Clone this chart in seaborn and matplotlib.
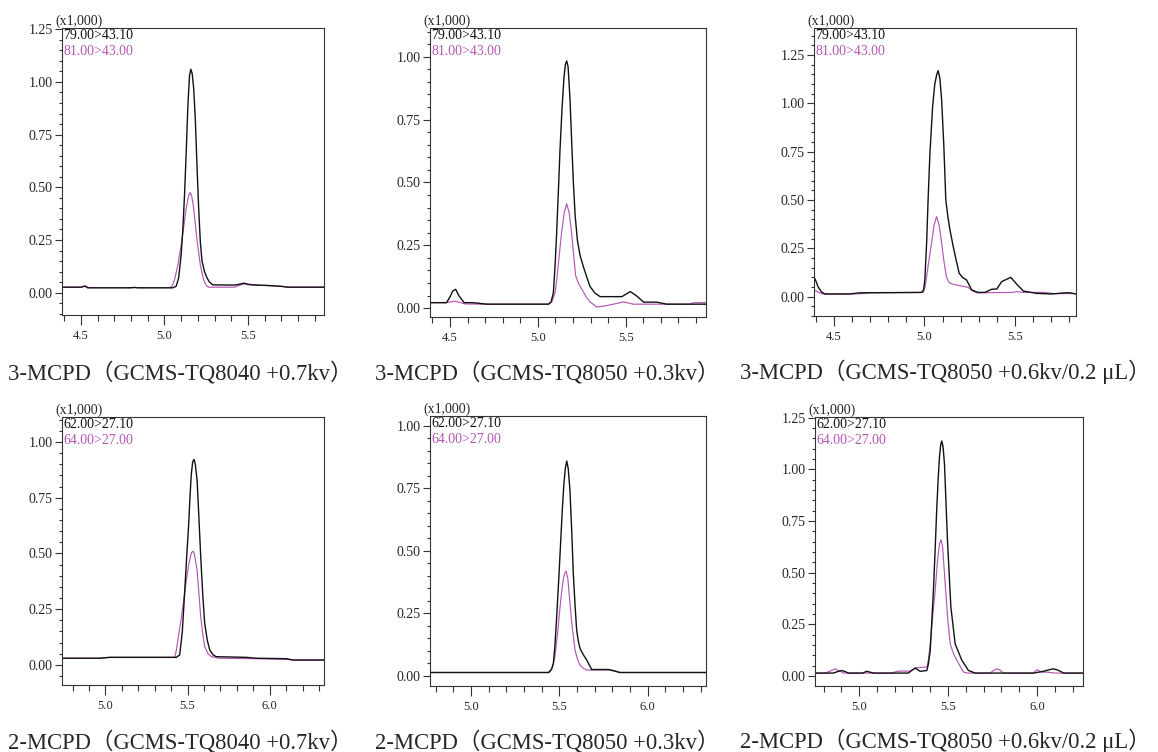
import numpy as np
import pandas as pd
import seaborn as sns
import matplotlib.pyplot as plt
from matplotlib.ticker import MultipleLocator, FormatStrFormatter

# retention time (min) / intensity (x1,000)
p1_blk_rt = [4.386, 4.50, 4.515, 4.525, 4.54, 4.80, 4.82, 4.84, 5.05, 5.07, 5.085, 5.10, 5.11, 5.12, 5.13, 5.14, 5.15,
             5.158, 5.166, 5.175, 5.185, 5.195, 5.205, 5.215, 5.225, 5.24, 5.255, 5.27, 5.29, 5.42, 5.45, 5.475, 5.50,
             5.53, 5.62, 5.70, 5.74, 5.956]
p1_blk_int = [0.026, 0.026, 0.030, 0.032, 0.023, 0.023, 0.025, 0.023, 0.023, 0.030, 0.07, 0.18, 0.30, 0.46, 0.66, 0.88,
              1.03, 1.06, 1.04, 0.97, 0.82, 0.60, 0.40, 0.24, 0.15, 0.10, 0.07, 0.05, 0.037, 0.036, 0.040, 0.045, 0.040,
              0.037, 0.034, 0.030, 0.026, 0.026]
p1_pur_rt = [4.386, 4.50, 4.52, 4.55, 5.03, 5.045, 5.06, 5.08, 5.105, 5.13, 5.145, 5.154, 5.163, 5.175, 5.195, 5.215,
             5.235, 5.25, 5.265, 5.42, 5.45, 5.475, 5.50, 5.53, 5.62, 5.70, 5.74, 5.956]
p1_pur_int = [0.026, 0.026, 0.029, 0.024, 0.024, 0.030, 0.06, 0.13, 0.25, 0.40, 0.46, 0.475, 0.46, 0.40, 0.25, 0.13,
              0.06, 0.035, 0.026, 0.026, 0.035, 0.042, 0.038, 0.036, 0.034, 0.030, 0.026, 0.026]

p2_blk_rt = [4.386, 4.48, 4.50, 4.515, 4.532, 4.55, 4.58, 4.63, 4.71, 5.06, 5.075, 5.088, 5.098, 5.107, 5.117, 5.126,
             5.138, 5.149, 5.157, 5.164, 5.172, 5.183, 5.192, 5.202, 5.212, 5.225, 5.24, 5.259, 5.28, 5.297, 5.325,
             5.354, 5.478, 5.50, 5.526, 5.56, 5.602, 5.677, 5.734, 5.957]
p2_blk_int = [0.022, 0.022, 0.045, 0.068, 0.075, 0.050, 0.022, 0.022, 0.016, 0.016, 0.025, 0.06, 0.17, 0.30, 0.47,
              0.63, 0.80, 0.92, 0.97, 0.983, 0.96, 0.83, 0.67, 0.50, 0.37, 0.27, 0.21, 0.165, 0.12, 0.086, 0.06, 0.046,
              0.046, 0.055, 0.066, 0.050, 0.024, 0.024, 0.016, 0.016]
p2_pur_rt = [4.386, 4.481, 4.51, 4.528, 4.55, 4.585, 4.70, 5.06, 5.08, 5.097, 5.107, 5.12, 5.135, 5.15, 5.164, 5.178,
             5.192, 5.205, 5.215, 5.23, 5.249, 5.275, 5.297, 5.335, 5.373, 5.43, 5.487, 5.544, 5.867, 5.886, 5.957]
p2_pur_int = [0.022, 0.022, 0.026, 0.028, 0.024, 0.017, 0.016, 0.016, 0.025, 0.06, 0.11, 0.20, 0.30, 0.38, 0.415,
              0.38, 0.30, 0.20, 0.13, 0.10, 0.077, 0.045, 0.025, 0.005, 0.008, 0.016, 0.025, 0.016, 0.016, 0.022, 0.022]

p3_blk_rt = [4.389, 4.40, 4.411, 4.43, 4.449, 4.587, 4.642, 4.984, 4.995, 5.002, 5.012, 5.02, 5.03, 5.045, 5.057,
             5.068, 5.076, 5.085, 5.095, 5.107, 5.118, 5.13, 5.141, 5.159, 5.175, 5.192, 5.21, 5.233, 5.261, 5.297,
             5.334, 5.371, 5.40, 5.427, 5.45, 5.477, 5.51, 5.547, 5.621, 5.704, 5.78, 5.805, 5.838]
p3_blk_int = [0.103, 0.08, 0.052, 0.025, 0.014, 0.014, 0.020, 0.022, 0.035, 0.086, 0.28, 0.50, 0.74, 0.983, 1.10,
              1.15, 1.169, 1.13, 1.017, 0.78, 0.50, 0.41, 0.345, 0.259, 0.19, 0.121, 0.10, 0.086, 0.035, 0.022, 0.022,
              0.038, 0.040, 0.078, 0.088, 0.100, 0.065, 0.029, 0.017, 0.014, 0.020, 0.020, 0.014]
p3_pur_rt = [4.389, 4.41, 4.438, 4.587, 4.66, 4.697, 4.993, 5.003, 5.011, 5.025, 5.039, 5.053, 5.067, 5.081, 5.095,
             5.108, 5.122, 5.135, 5.15, 5.196, 5.242, 5.265, 5.288, 5.49, 5.508, 5.547, 5.667, 5.713, 5.838]
p3_pur_int = [0.035, 0.025, 0.014, 0.014, 0.016, 0.020, 0.022, 0.05, 0.10, 0.19, 0.276, 0.37, 0.414, 0.37, 0.276,
              0.18, 0.100, 0.075, 0.066, 0.057, 0.048, 0.03, 0.020, 0.022, 0.026, 0.022, 0.022, 0.016, 0.016]

p4_blk_rt = [4.736, 4.965, 5.026, 5.432, 5.452, 5.468, 5.483, 5.495, 5.507, 5.515, 5.523, 5.531, 5.539, 5.547, 5.558,
             5.569, 5.58, 5.592, 5.604, 5.62, 5.635, 5.655, 5.675, 5.858, 5.919, 6.102, 6.142, 6.33]
p4_blk_int = [0.030, 0.030, 0.034, 0.034, 0.045, 0.15, 0.336, 0.49, 0.634, 0.76, 0.858, 0.91, 0.922, 0.90, 0.828,
              0.66, 0.485, 0.32, 0.187, 0.11, 0.067, 0.045, 0.037, 0.034, 0.030, 0.028, 0.022, 0.022]
p4_pur_rt = [4.736, 4.965, 5.026, 5.422, 5.432, 5.447, 5.463, 5.478, 5.493, 5.505, 5.517, 5.525, 5.533, 5.541, 5.558,
             5.569, 5.58, 5.592, 5.604, 5.625, 5.645, 5.696, 5.90, 6.102, 6.142, 6.33]
p4_pur_int = [0.030, 0.030, 0.034, 0.034, 0.067, 0.14, 0.216, 0.30, 0.381, 0.44, 0.485, 0.505, 0.510, 0.50, 0.425,
              0.32, 0.216, 0.14, 0.082, 0.05, 0.037, 0.030, 0.028, 0.025, 0.022, 0.022]

p5_blk_rt = [4.768, 5.438, 5.455, 5.466, 5.475, 5.485, 5.497, 5.508, 5.518, 5.526, 5.534, 5.542, 5.55, 5.56, 5.57,
             5.579, 5.589, 5.598, 5.607, 5.617, 5.635, 5.655, 5.683, 5.777, 5.81, 5.843, 6.33]
p5_blk_int = [0.013, 0.013, 0.025, 0.049, 0.12, 0.236, 0.39, 0.543, 0.68, 0.769, 0.83, 0.859, 0.83, 0.743, 0.58,
              0.409, 0.28, 0.183, 0.14, 0.109, 0.085, 0.063, 0.025, 0.025, 0.020, 0.013, 0.013]
p5_pur_rt = [4.768, 5.443, 5.46, 5.475, 5.49, 5.504, 5.517, 5.528, 5.538, 5.548, 5.56, 5.575, 5.589, 5.603, 5.617,
             5.635, 5.655, 5.787, 5.81, 5.843, 6.33]
p5_pur_int = [0.013, 0.013, 0.03, 0.076, 0.17, 0.276, 0.36, 0.405, 0.419, 0.39, 0.289, 0.18, 0.103, 0.065, 0.043,
              0.03, 0.023, 0.023, 0.018, 0.013, 0.013]

p6_blk_rt = [4.752, 4.855, 4.88, 4.903, 4.92, 4.94, 5.02, 5.043, 5.065, 5.08, 5.277, 5.30, 5.315, 5.343, 5.381, 5.39,
             5.40, 5.418, 5.428, 5.437, 5.445, 5.452, 5.459, 5.465, 5.472, 5.48, 5.497, 5.516, 5.54, 5.578, 5.615,
             5.653, 5.981, 6.037, 6.065, 6.093, 6.12, 6.15, 6.262]
p6_blk_int = [0.0145, 0.0145, 0.022, 0.027, 0.022, 0.0145, 0.0145, 0.023, 0.018, 0.0145, 0.0145, 0.03, 0.039, 0.023,
              0.027, 0.06, 0.124, 0.415, 0.62, 0.818, 0.96, 1.06, 1.12, 1.137, 1.11, 1.027, 0.656, 0.334, 0.156, 0.076,
              0.027, 0.0145, 0.0145, 0.023, 0.030, 0.035, 0.028, 0.0145, 0.0145]
p6_pur_rt = [4.752, 4.809, 4.84, 4.865, 4.89, 4.912, 5.18, 5.221, 5.287, 5.324, 5.381, 5.39, 5.40, 5.414, 5.428, 5.44,
             5.452, 5.461, 5.47, 5.484, 5.498, 5.512, 5.53, 5.55, 5.587, 5.61, 5.737, 5.757, 5.775, 5.793, 5.812,
             5.981, 6.0, 6.028, 6.06, 6.10, 6.262]
p6_pur_int = [0.0145, 0.0145, 0.025, 0.035, 0.025, 0.0145, 0.0145, 0.024, 0.024, 0.040, 0.044, 0.08, 0.156, 0.29,
              0.415, 0.55, 0.64, 0.66, 0.62, 0.447, 0.28, 0.156, 0.11, 0.076, 0.019, 0.0145, 0.0145, 0.028, 0.035,
              0.028, 0.0145, 0.0145, 0.031, 0.019, 0.019, 0.0145, 0.0145]

mrm_3mcpd = ["79.00>43.10", "81.00>43.00"]
mrm_2mcpd = ["62.00>27.10", "64.00>27.00"]
captions = ["3-MCPD（GCMS-TQ8040 +0.7kv）", "3-MCPD（GCMS-TQ8050 +0.3kv）", "3-MCPD（GCMS-TQ8050 +0.6kv/0.2 μL）",
            "2-MCPD（GCMS-TQ8040 +0.7kv）", "2-MCPD（GCMS-TQ8050 +0.3kv）", "2-MCPD（GCMS-TQ8050 +0.6kv/0.2 μL）"]

BLACK = "#111111"
PURPLE = "#b556b5"

sns.set_style("ticks")
plt.rcParams['font.family'] = ['Liberation Serif', 'Noto Sans CJK SC', 'DejaVu Sans']

W, H = 1158, 752
fig = plt.figure(figsize=(W / 100, H / 100), dpi=100)

# box in pixels (left, top, right, bottom), xlim, ylim
panels = [
    ((62, 28, 324, 315), (4.386, 5.956), (-0.106, 1.256), p1_blk_rt, p1_blk_int, p1_pur_rt, p1_pur_int, mrm_3mcpd),
    ((430, 28, 706, 317), (4.386, 5.957), (-0.035, 1.114), p2_blk_rt, p2_blk_int, p2_pur_rt, p2_pur_int, mrm_3mcpd),
    ((814, 28, 1076, 316), (4.389, 5.838), (-0.100, 1.390), p3_blk_rt, p3_blk_int, p3_pur_rt, p3_pur_int, mrm_3mcpd),
    ((62, 417, 324, 685), (4.736, 6.330), (-0.090, 1.112), p4_blk_rt, p4_blk_int, p4_pur_rt, p4_pur_int, mrm_2mcpd),
    ((430, 416, 706, 686), (4.768, 6.330), (-0.041, 1.039), p5_blk_rt, p5_blk_int, p5_pur_rt, p5_pur_int, mrm_2mcpd),
    ((815, 417, 1083, 686), (4.752, 6.259), (-0.048, 1.253), p6_blk_rt, p6_blk_int, p6_pur_rt, p6_pur_int, mrm_2mcpd),
]

for (l, t, r, b), xlim, ylim, brt, bint, prt, pint, mrm in panels:
    ax = fig.add_axes([l / W, 1 - b / H, (r - l) / W, (b - t) / H])
    sns.lineplot(x=prt, y=pint, ax=ax, color=PURPLE, linewidth=0.85, estimator=None)
    sns.lineplot(x=brt, y=bint, ax=ax, color=BLACK, linewidth=1.0, estimator=None)
    ax.set_xlim(*xlim)
    ax.set_ylim(*ylim)
    ax.set_xlabel("")
    ax.set_ylabel("")
    ax.xaxis.set_major_locator(MultipleLocator(0.5))
    ax.xaxis.set_minor_locator(MultipleLocator(0.1))
    ax.yaxis.set_major_locator(MultipleLocator(0.25))
    ax.yaxis.set_minor_locator(MultipleLocator(0.05))
    ax.xaxis.set_major_formatter(FormatStrFormatter("%.1f"))
    ax.yaxis.set_major_formatter(FormatStrFormatter("%.2f"))
    ax.tick_params(axis="x", which="major", length=7.2, width=0.8, labelsize=9, pad=3.5, color="#333333")
    ax.tick_params(axis="x", which="minor", length=4.6, width=0.8, color="#333333")
    ax.tick_params(axis="y", which="major", length=5, width=0.8, labelsize=10, pad=1.5, color="#333333")
    ax.tick_params(axis="y", which="minor", length=2.5, width=0.8, color="#333333")
    for sp in ax.spines.values():
        sp.set_visible(True)
        sp.set_linewidth(0.8)
        sp.set_color("#333333")
    ax.annotate("(x1,000)", xy=(0, 1), xycoords="axes fraction", xytext=(-7, 0), textcoords="offset pixels",
                ha="left", va="bottom", fontsize=10)
    ax.annotate(mrm[0], xy=(0, 1), xycoords="axes fraction", xytext=(1, -1), textcoords="offset pixels",
                ha="left", va="top", fontsize=10, color=BLACK)
    ax.annotate(mrm[1], xy=(0, 1), xycoords="axes fraction", xytext=(1, -17), textcoords="offset pixels",
                ha="left", va="top", fontsize=10, color=PURPLE)

cap_x = [8, 375, 740]
cap_base = [379, 748]
for i, text in enumerate(captions):
    fig.text(cap_x[i % 3] / W, 1 - cap_base[i // 3] / H, text, ha="left", va="baseline", fontsize=16.3)

fig.savefig("out.png", dpi=100)
